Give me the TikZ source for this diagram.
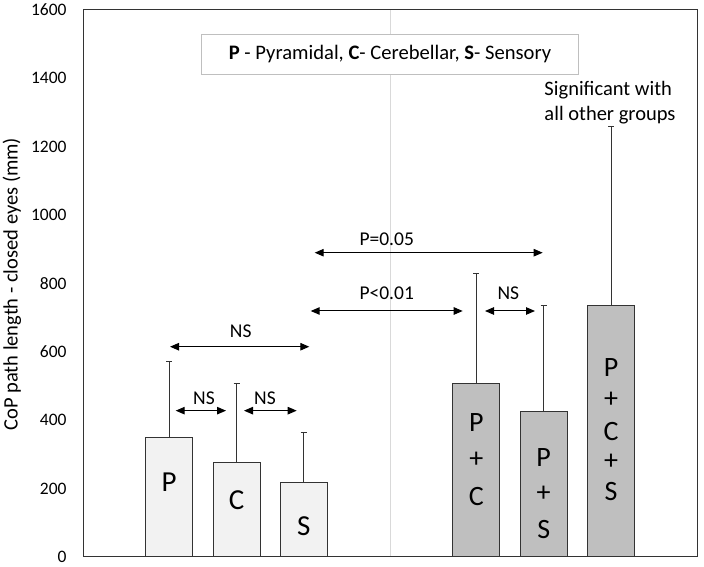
\documentclass[tikz,border=0pt]{standalone}
\usepackage{fontspec}
\setmainfont{Carlito}
\usetikzlibrary{arrows.meta, positioning}

\begin{document}
\begin{tikzpicture}[x=1pt, y=1pt]
	\tikzset{lightbar/.style={draw=black!80, fill=black!5, line width=1pt}}
	\tikzset{darkbar/.style={draw=black!80, fill=black!25, line width=1pt}}
	\tikzset{errbar/.style={draw=black!80, line width=0.9pt}}
	\tikzset{ar/.style={{Triangle[length=9pt,width=7.5pt]}-{Triangle[length=9pt,width=7.5pt]}, line width=1pt}}
	\tikzset{ticklbl/.style={anchor=east, inner sep=0, font=\fontsize{17.5}{18}\selectfont}}
	\tikzset{sig/.style={inner sep=0, font=\fontsize{19.5}{20}\selectfont}}
	\tikzset{barlbl/.style={inner sep=0, font=\fontsize{29}{30}\selectfont}}
	\tikzset{combolbl/.style={inner sep=0, font=\fontsize{28}{30}\selectfont}}
	\useasboundingbox (0,0) rectangle (704,567);
	\begin{scope}[shift={(0,10)}, y=0.3419pt]
		% divider between the two groups
		\draw[black!15, line width=0.8pt] (390,0) -- (390,1600);
		% plot frame
		\draw[black!80, line width=1pt] (83,0) rectangle (697,1600);
		\foreach \v in {0,200,...,1600}
			\node[ticklbl] at (66.7,\v) {\v};
		\node[rotate=90, inner sep=0, font=\fontsize{20.5}{21}\selectfont] (ylabel) at (12,798) {CoP path length - closed eyes (mm)};
		% bars: centre / mean / mean+sd / style
		\foreach \x/\m/\e/\st in {169/349/573/lightbar, 236.7/276/507/lightbar, 303.7/219/363/lightbar,
				476.3/508/830/darkbar, 543.7/425/735/darkbar, 611/735/1258/darkbar}{
			\draw[errbar] (\x,\m) -- (\x,\e) (\x-3,\e) -- (\x+3,\e);
			\draw[\st] (\x-23.5,0) rectangle (\x+23.5,\m);
		}
		\node[barlbl] (lblP) at (169,219) {P};
		\node[barlbl] (lblC) at (236.7,167) {C};
		\node[barlbl] (lblS) at (303.7,89) {S};
		\node[combolbl] (pc1) at (476.3,392) {P};
		\node[combolbl] (pc2) at (476.3,284) {+};
		\node[combolbl] (pc3) at (476.3,176) {C};
		\node[combolbl] (ps1) at (543.7,290) {P};
		\node[combolbl] (ps2) at (543.7,184) {+};
		\node[combolbl] (ps3) at (543.7,79) {S};
		\node[combolbl] (pcs1) at (611,553) {P};
		\node[combolbl] (pcs2) at (611,459) {+};
		\node[combolbl] (pcs3) at (611,366) {C};
		\node[combolbl] (pcs4) at (611,279) {+};
		\node[combolbl] (pcs5) at (611,191) {S};
		% legend
		\node[draw=black!25, fill=white, line width=0.8pt, minimum width=376.6pt, minimum height=40pt, inner sep=0,
			font=\fontsize{20.6}{21}\selectfont] (legend) at (390,1470)
			{\textbf{P} - Pyramidal, \textbf{C}- Cerebellar, \textbf{S}- Sensory};
		\node[align=left, inner sep=0, font=\fontsize{20.5}{25}\selectfont] (allgroups) at (610,1329)
			{Significant with\\all other groups};
		% comparisons
		\coordinate (nsA) at (170,615);   \coordinate (nsB) at (309.3,615);
		\coordinate (pcA) at (175.7,428); \coordinate (pcB) at (226,428);
		\coordinate (csA) at (244,428);   \coordinate (csB) at (296.7,428);
		\coordinate (lowA) at (310.7,719.5); \coordinate (lowB) at (462.7,719.5);
		\coordinate (eqA) at (314.7,890); \coordinate (eqB) at (542.7,890);
		\coordinate (psA) at (485,719.5); \coordinate (psB) at (535,719.5);
		\draw[ar] (nsA) -- (nsB);
		\draw[ar] (pcA) -- (pcB);
		\draw[ar] (csA) -- (csB);
		\draw[ar] (lowA) -- (lowB);
		\draw[ar] (eqA) -- (eqB);
		\draw[ar] (psA) -- (psB);
		\node[sig] (nsAll) at (240.7,659) {NS};
		\node[sig] (nsPC) at (204,464) {NS};
		\node[sig] (nsCS) at (265,464) {NS};
		\node[sig] (pLow) at (386.7,771) {P<0.01};
		\node[sig] (pEq) at (386.7,929) {P=0.05};
		\node[sig] (nsPS) at (508.3,771) {NS};
	\end{scope}
\end{tikzpicture}
\end{document}
